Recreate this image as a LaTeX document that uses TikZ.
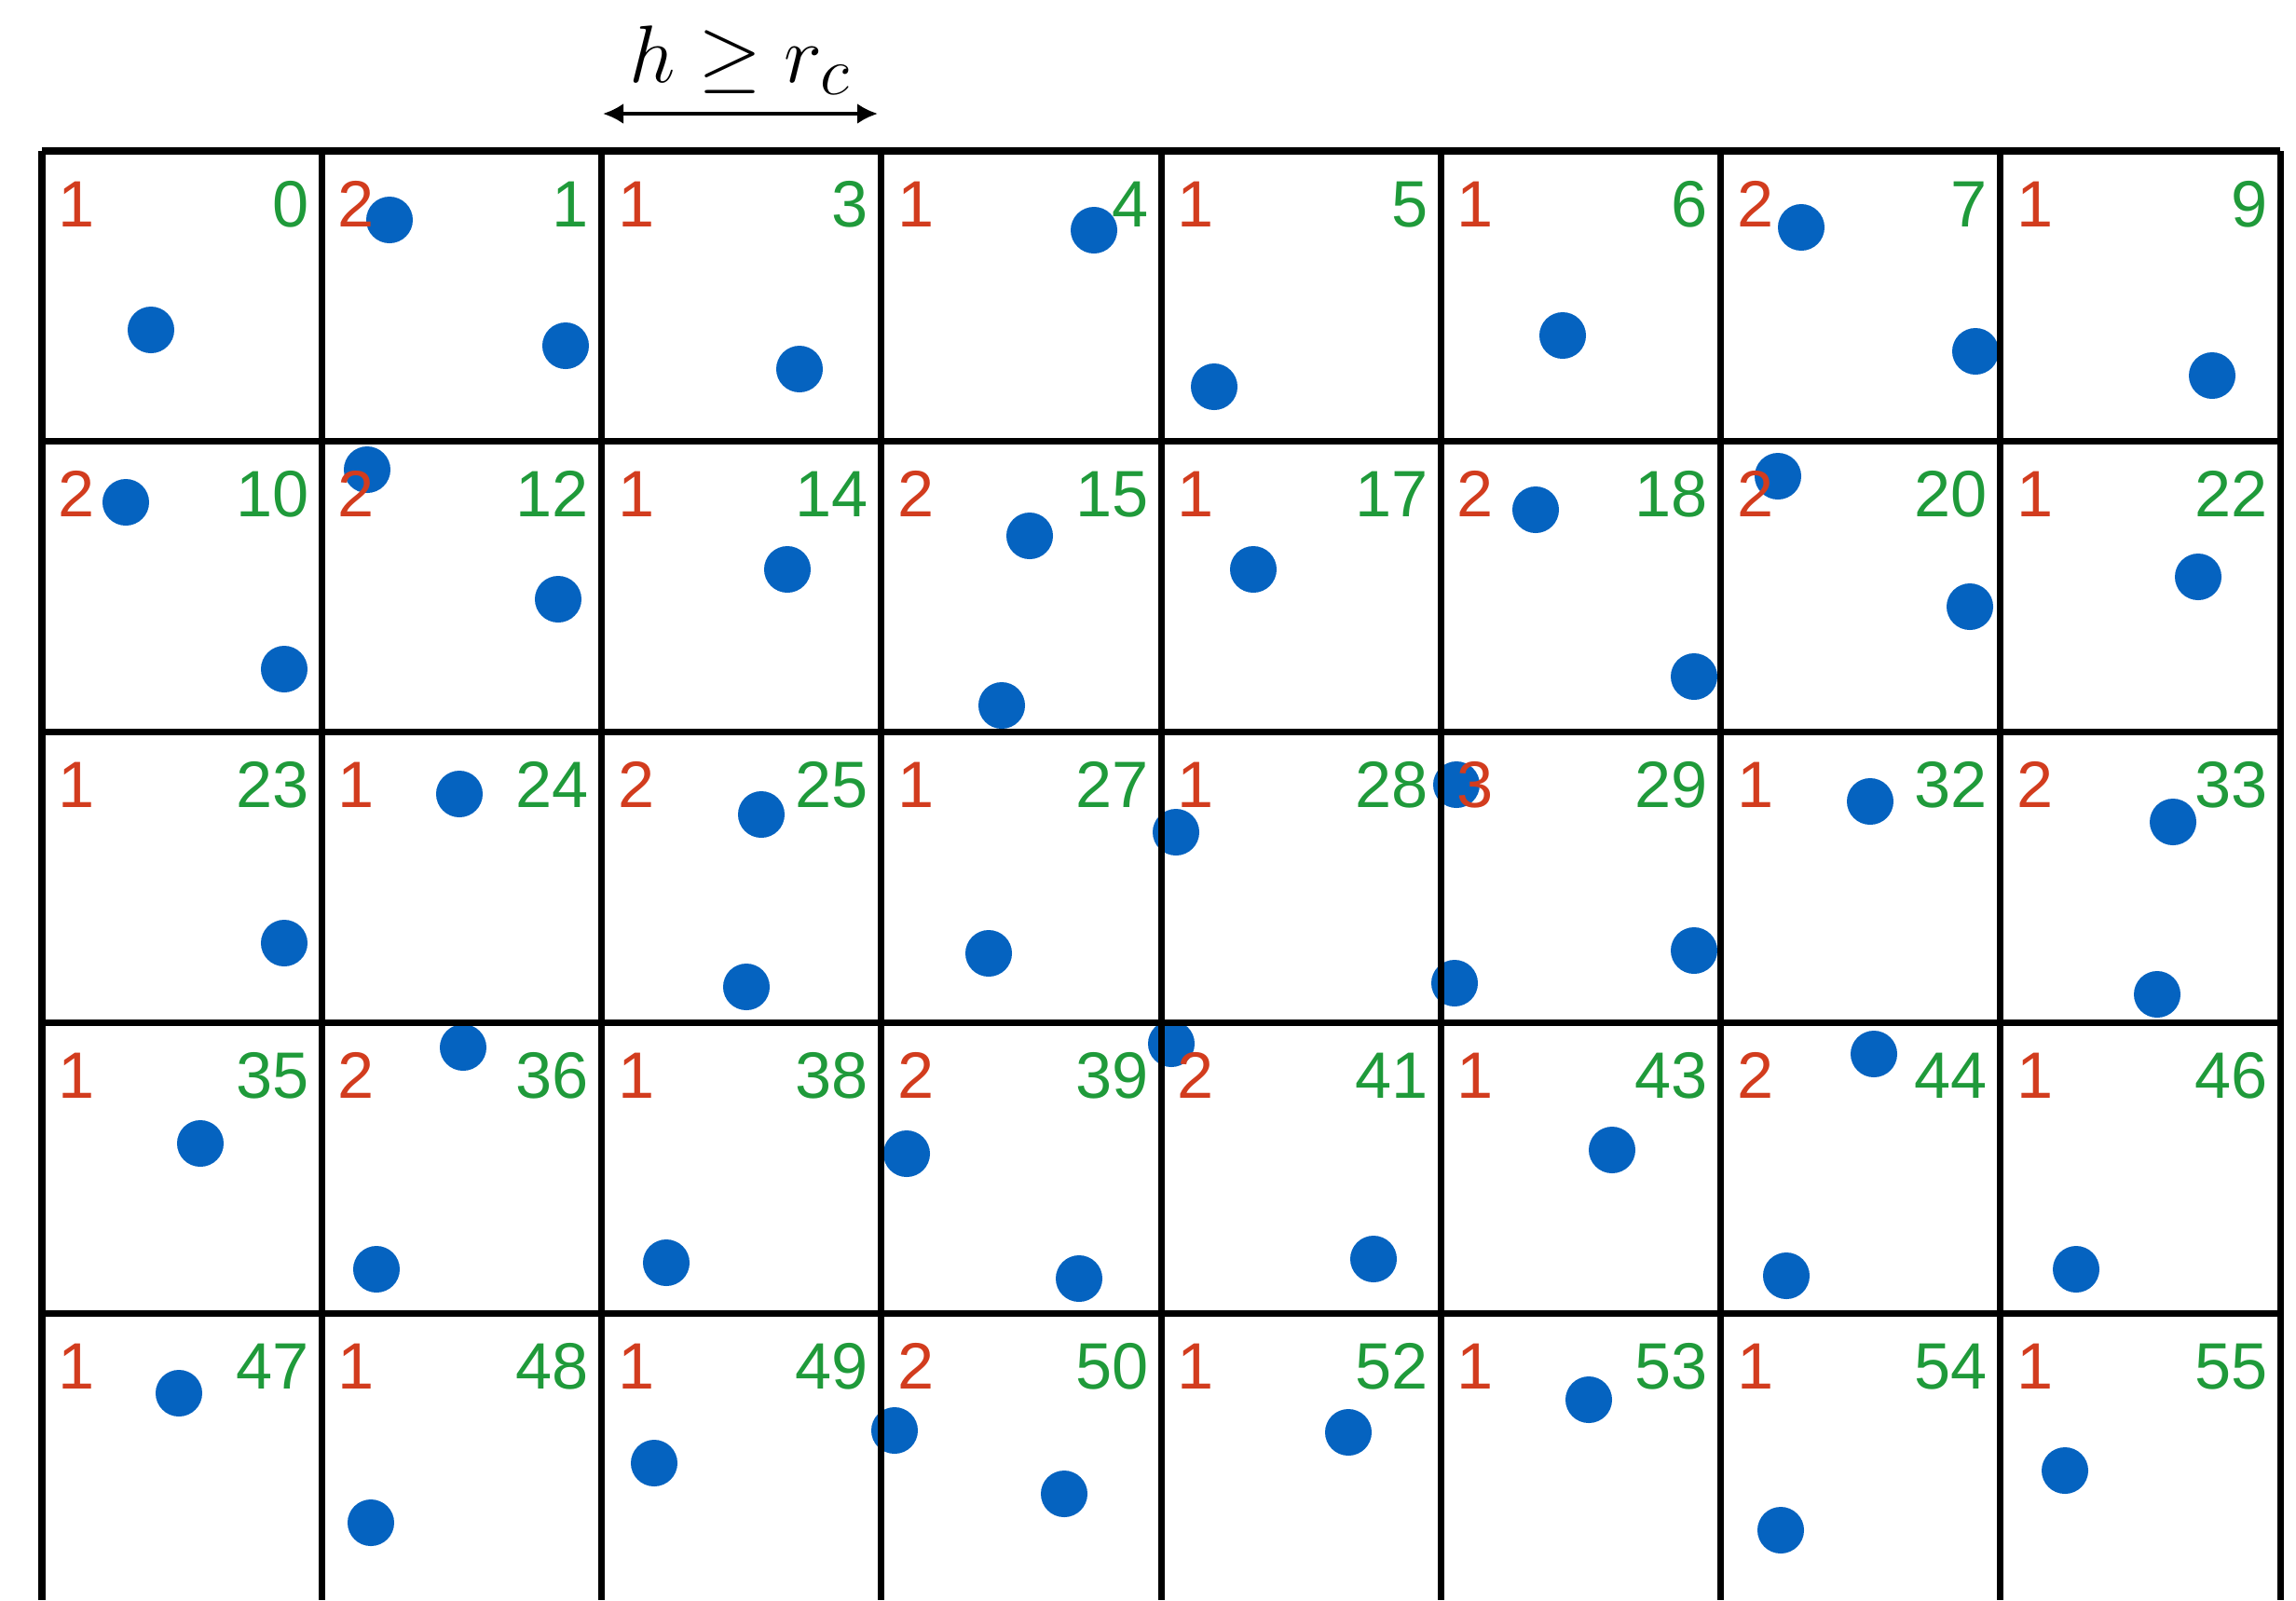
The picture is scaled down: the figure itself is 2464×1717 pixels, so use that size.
\documentclass[tikz,border=0pt]{standalone}
\usepackage{fontspec}
\usetikzlibrary{arrows.meta}
\newfontfamily\cellfont{Liberation Sans}
\definecolor{cntred}{HTML}{D23C1E}
\definecolor{idgreen}{HTML}{1F9A3A}
\definecolor{ptblue}{HTML}{0563C0}

\begin{document}
\begin{tikzpicture}[x=0.01cm,y=-0.01cm,gridline/.style={line width=2pt,black},particle/.style={fill=ptblue},cnt/.style={anchor=base west,inner sep=0,text=cntred,font=\cellfont\fontsize{20}{24}\selectfont},idx/.style={anchor=base east,inner sep=0,text=idgreen,font=\cellfont\fontsize{20}{24}\selectfont},dim/.style={{Latex[length=0.22cm,width=0.22cm]}-{Latex[length=0.22cm,width=0.22cm]},line width=1.1pt}]
\useasboundingbox (0,0) rectangle (2464,1717);
% particles
\foreach \px/\py in {162/354,418/236,607/371,858/396,1174/247,1303/415,1677/360,1933/244,2120/377,2374/403,
  135/539,305/718,394/504,599/643,845/611,1105/575,1075/757,1345/611,1648/547,1818/726,1908/511,2114/651,2359/619,
  305/1012,493/852,817/874,801/1059,1061/1023,1262/893,1563/842,1561/1055,1818/1020,2007/860,2332/882,2315/1067,
  215/1227,497/1124,404/1362,715/1355,973/1238,1158/1372,1257/1120,1474/1351,1730/1234,2011/1131,1917/1369,2228/1362,
  192/1495,398/1634,702/1570,960/1535,1142/1603,1447/1537,1705/1502,1911/1642,2216/1578}
  \fill[particle] (\px,\py) circle[radius=0.25cm];
% cell grid
\foreach \i in {0,...,8}
  \draw[gridline] ({45+300.25*\i},162) -- ({45+300.25*\i},1717);
\foreach \j in {0,...,4}
  \draw[gridline] (45,{162+311.75*\j}) -- (2447,{162+311.75*\j});
% counts and cell indices
\foreach \c/\k [count=\i from 0] in {1/0,2/1,1/3,1/4,1/5,1/6,2/7,1/9,
  2/10,2/12,1/14,2/15,1/17,2/18,2/20,1/22,
  1/23,1/24,2/25,1/27,1/28,3/29,1/32,2/33,
  1/35,2/36,1/38,2/39,2/41,1/43,2/44,1/46,
  1/47,1/48,1/49,2/50,1/52,1/53,1/54,1/55}{
  \pgfmathtruncatemacro\col{mod(\i,8)}
  \pgfmathtruncatemacro\row{div(\i,8)}
  \node[cnt] (c\k) at ({45+300.25*\col+17},{162+311.75*\row+81}) {\c};
  \node[idx] (n\k) at ({45+300.25*(\col+1)-13},{162+311.75*\row+81}) {\k};
}
% cell size
\node[anchor=base,inner sep=0,font=\fontsize{28}{32}\selectfont] (hlab) at (794,88) {$h \geq r_c$};
\coordinate (hl) at (647,122);
\coordinate (hr) at (942,122);
\draw[dim] (hl) -- (hr);
\end{tikzpicture}
\end{document}
